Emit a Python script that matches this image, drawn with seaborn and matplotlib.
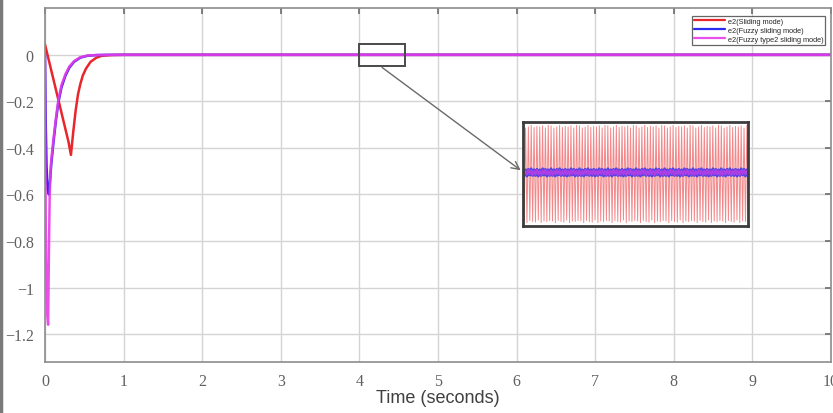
import numpy as np
import pandas as pd
import seaborn as sns
import matplotlib.pyplot as plt
from matplotlib.patches import Rectangle
from matplotlib.lines import Line2D

# curves
t_smc = [0, 0.05, 0.1, 0.15, 0.2, 0.25, 0.3, 0.33, 0.36, 0.39, 0.42, 0.45, 0.48, 0.52, 0.58, 0.65, 0.72, 0.85, 1.0, 10]
e2_smc = [0.045, -0.025, -0.095, -0.165, -0.235, -0.305, -0.375, -0.43, -0.33, -0.24, -0.17, -0.125, -0.09, -0.06, -0.03, -0.013, -0.004, -0.001, 0, 0]

t_fsmc = [0, 0.01, 0.02, 0.035, 0.05, 0.065, 0.08, 0.11, 0.14, 0.17, 0.21, 0.26, 0.31, 0.37, 0.45, 0.54, 0.65, 0.8, 10]
e2_fsmc = [0, -0.3, -0.48, -0.58, -0.6, -0.54, -0.47, -0.37, -0.28, -0.205, -0.14, -0.09, -0.055, -0.03, -0.012, -0.004, -0.001, 0, 0]

t_ft2 = [0, 0.003, 0.01, 0.02, 0.03, 0.04, 0.05, 0.06, 0.07, 0.08, 0.11, 0.14, 0.17, 0.21, 0.26, 0.31, 0.37, 0.45, 0.54, 0.65, 0.8, 10]
e2_ft2 = [0, -0.35, -0.75, -1.0, -1.12, -1.16, -0.85, -0.6, -0.5, -0.45, -0.355, -0.27, -0.195, -0.13, -0.083, -0.05, -0.027, -0.01, -0.003, -0.001, 0, 0]

# chattering seen inside the zoom window (one stretch of peaks, repeated)
zoom_t = [4.0, 4.58]
chatter_smc = [0.92, -0.9, 0.88, -0.93, 0.9, -0.89, 0.93, -0.91, 0.89, -0.92,
               0.91, -0.88, 0.9, -0.93, 0.92, -0.9, 0.88, -0.91, 0.93, -0.89]
chatter_fsmc = [0.07, -0.06, 0.05, -0.07, 0.06, -0.05, 0.07, -0.06, 0.05, -0.06,
                0.06, -0.07, 0.05, -0.06, 0.07, -0.05, 0.06, -0.07, 0.05, -0.06]
chatter_ft2 = [0.04, -0.05, 0.03, -0.04, 0.05, -0.03, 0.04, -0.05, 0.03, -0.04,
               0.05, -0.04, 0.03, -0.05, 0.04, -0.03, 0.05, -0.04, 0.03, -0.05]
n_repeat = 8

labels = ['e2(Sliding mode)', 'e2(Fuzzy sliding mode)', 'e2(Fuzzy type2 sliding mode)']
colors = ['#e8262b', '#2b2bef', '#e83ce8']

sns.set_theme(style='white')
plt.rcParams['font.family'] = ['Liberation Serif', 'DejaVu Serif']

fig = plt.figure(figsize=(8.33, 4.14), dpi=100)
ax = fig.add_axes([0.054, 0.1232, 0.9436, 0.8543])

sns.lineplot(x=t_smc, y=e2_smc, ax=ax, color=colors[0], lw=1.8, label=labels[0])
sns.lineplot(x=t_fsmc, y=e2_fsmc, ax=ax, color=colors[1], lw=1.8, label=labels[1])
sns.lineplot(x=t_ft2, y=e2_ft2, ax=ax, color=colors[2], lw=1.8, alpha=0.9, label=labels[2])

ax.set_xlim(0, 10)
ax.set_ylim(-1.32, 0.2)
ax.set_xticks(range(0, 11))
ax.set_yticks([0, -0.2, -0.4, -0.6, -0.8, -1, -1.2])
ax.set_yticklabels(['0', '\u22120.2', '\u22120.4', '\u22120.6', '\u22120.8', '\u22121', '\u22121.2'])
ax.grid(True, color='#d4d4d4', lw=1.0)
ax.tick_params(direction='in', length=4, colors='#707070', labelcolor='#606060',
               labelsize=11.5, top=True, right=True, pad=8)
for s in ax.spines.values():
    s.set_color('#8c8c8c')
    s.set_linewidth(1.2)
ax.set_xlabel('Time (seconds)', family='Liberation Sans', fontsize=13, color='#404040', labelpad=0)

leg = ax.legend(loc='upper right', prop={'family': 'Liberation Sans', 'size': 5.3},
                frameon=True, fancybox=False, handlelength=4.2, borderpad=0.3,
                labelspacing=0.25, handletextpad=0.3, bbox_to_anchor=(0.9975, 0.99))
leg.get_frame().set_edgecolor('#404040')
leg.get_frame().set_linewidth(0.9)
for h in leg.get_lines():
    h.set_linewidth(1.6)

# zoom window and arrow
ax.add_patch(Rectangle((zoom_t[0], -0.047), zoom_t[1] - zoom_t[0], 0.094,
                       fill=False, edgecolor='#4a4a4a', lw=1.4, zorder=5))
ax.annotate('', xy=(6.08, -0.503), xytext=(4.26, -0.047),
            arrowprops=dict(arrowstyle='->', color='#6a6a6a', lw=1.0, mutation_scale=14))

# inset
ins = fig.add_axes([0.6275, 0.451, 0.2708, 0.2527])
n = n_repeat * len(chatter_smc)
tz = np.linspace(zoom_t[0], zoom_t[1], n)
sns.lineplot(x=tz, y=np.tile(chatter_smc, n_repeat), ax=ins, color=colors[0], lw=0.7, alpha=0.55)
sns.lineplot(x=tz, y=np.tile(chatter_fsmc, n_repeat) + 0.03, ax=ins, color=colors[1], lw=2.0, alpha=0.8)
sns.lineplot(x=tz, y=np.tile(chatter_ft2, n_repeat) + 0.03, ax=ins, color=colors[2], lw=1.4, alpha=0.6)
ins.set_xlim(zoom_t[0], zoom_t[1])
ins.set_ylim(-1.0, 1.0)
ins.set_xticks([])
ins.set_yticks([])
for s in ins.spines.values():
    s.set_color('#3c3c3c')
    s.set_linewidth(2.0)

fig.add_artist(Line2D([0.0015, 0.0015], [0, 1], color='#7a7a7a', lw=2.5, transform=fig.transFigure))

fig.savefig('out.png', dpi=100)
